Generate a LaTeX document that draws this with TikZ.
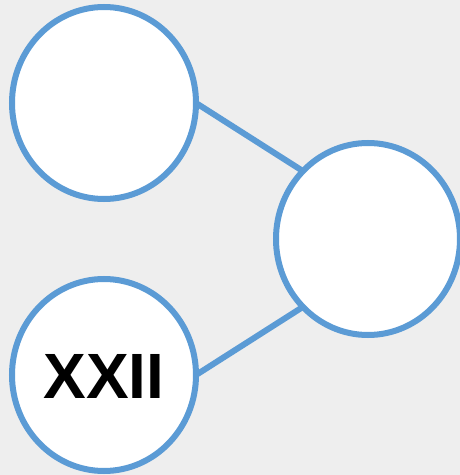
\documentclass[tikz,border=0pt]{standalone}
\usepackage{fontspec}
\setmainfont{Liberation Sans}
\usetikzlibrary{shapes.geometric}
\definecolor{edgeblue}{HTML}{5B9BD5}
\definecolor{bggray}{HTML}{EEEEEE}
\tikzset{
  bubble/.style={ellipse, draw=edgeblue, fill=white, line width=6pt,
    minimum width=184pt, minimum height=192pt, inner sep=0pt, outer sep=0pt},
  link/.style={draw=edgeblue, line width=6pt},
  numtext/.style={font=\fontsize{64}{64}\selectfont\bfseries, text=black}
}
\begin{document}
\begin{tikzpicture}[x=1pt,y=1pt]
  \fill[bggray] (0,0) rectangle (460,475);
  \useasboundingbox (0,0) rectangle (460,475);
  \node[bubble] (a) at (104,372) {};
  \node[bubble] (b) at (104,100) {};
  \node[bubble] (c) at (368,236) {};
  \node[numtext] (t) at ([yshift=-1pt]b.center) {XXII};
  \draw[link] (a.east) -- (c.north west);
  \draw[link] (b.east) -- (c.south west);
\end{tikzpicture}
\end{document}
